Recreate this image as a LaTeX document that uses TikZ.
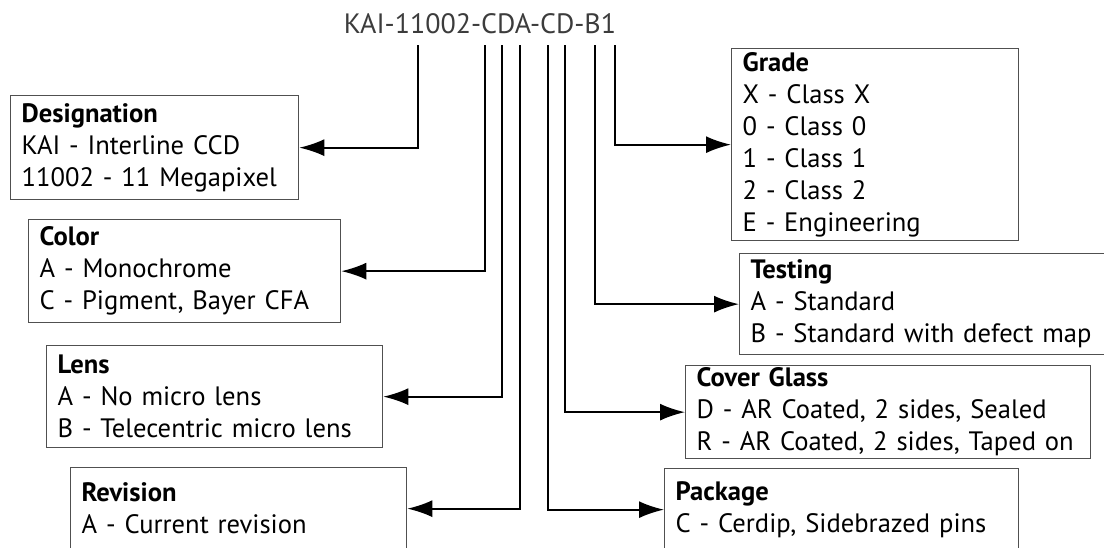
\documentclass[tikz,border=0pt]{standalone}
\usepackage{fontspec}
\setmainfont{PT Sans}
\usetikzlibrary{arrows.meta}
\definecolor{codegray}{HTML}{3C3C3C}
\definecolor{boxgray}{HTML}{505050}
\newcommand{\boxhead}[1]{\textbf{#1}}

\begin{document}
\begin{tikzpicture}[x=0.5pt, y=-0.5pt, font=\fontsize{13.3}{16}\selectfont,
  infobox/.style={draw=boxgray, line width=0.65pt, anchor=north west, align=left,
    inner xsep=5.5pt, inner ysep=0pt},
  conn/.style={-{Latex[length=12.5pt, width=8.5pt]}, line width=1pt}]
  \useasboundingbox (0,0) rectangle (1104,547);
  \clip (0,0) rectangle (1104,547);
  \node[anchor=base, text=codegray, font=\fontsize{14}{16}\selectfont] (code) at (480,33) {KAI-11002-CDA-CD-B1};
  \coordinate (kDesig) at (418,45);
  \coordinate (kColor) at (485,45);
  \coordinate (kLens) at (502,45);
  \coordinate (kRev) at (520,45);
  \coordinate (kPack) at (548,45);
  \coordinate (kCover) at (565,45);
  \coordinate (kTest) at (595,45);
  \coordinate (kGrade) at (615,45);
  \node[infobox, minimum width=144pt, minimum height=52pt, text width=133pt] (desig) at (10,95)
    {\boxhead{Designation}\\KAI - Interline CCD\\11002 - 11 Megapixel};
  \node[infobox, minimum width=156pt, minimum height=51.5pt, text width=145pt] (color) at (28,219)
    {\boxhead{Color}\\A - Monochrome\\C - Pigment, Bayer CFA};
  \node[infobox, minimum width=168pt, minimum height=51pt, text width=157pt] (lens) at (46,345)
    {\boxhead{Lens}\\A - No micro lens\\B - Telecentric micro lens};
  \node[infobox, minimum width=168pt, minimum height=41pt, text width=157pt] (rev) at (70,467)
    {\boxhead{Revision}\\A - Current revision\\[-6pt]};
  \node[infobox, minimum width=143.5pt, minimum height=96pt, text width=132.5pt] (grade) at (731,48)
    {\boxhead{Grade}\\X - Class X\\0 - Class 0\\1 - Class 1\\2 - Class 2\\E - Engineering};
  \node[infobox, minimum width=185pt, minimum height=50.5pt, text width=174pt] (test) at (739,253)
    {\boxhead{Testing}\\A - Standard\\B - Standard with defect map};
  \node[infobox, minimum width=202.5pt, minimum height=46.5pt, text width=191.5pt] (cover) at (685,365)
    {\boxhead{Cover Glass}\\D - AR Coated, 2 sides, Sealed\\R - AR Coated, 2 sides, Taped on};
  \node[infobox, minimum width=177pt, minimum height=41pt, text width=166pt] (pack) at (664,468)
    {\boxhead{Package}\\C - Cerdip, Sidebrazed pins\\[-6pt]};
  \draw[conn] (kDesig) |- (desig.east);
  \draw[conn] (kColor) |- (color.east);
  \draw[conn] (kLens) |- (lens.east);
  \draw[conn] (kRev) |- (rev.east);
  \draw[conn] (kPack) |- (pack.west);
  \draw[conn] (kCover) |- (cover.west);
  \draw[conn] (kTest) |- (test.west);
  \draw[conn] (kGrade) |- (grade.west);
\end{tikzpicture}
\end{document}
